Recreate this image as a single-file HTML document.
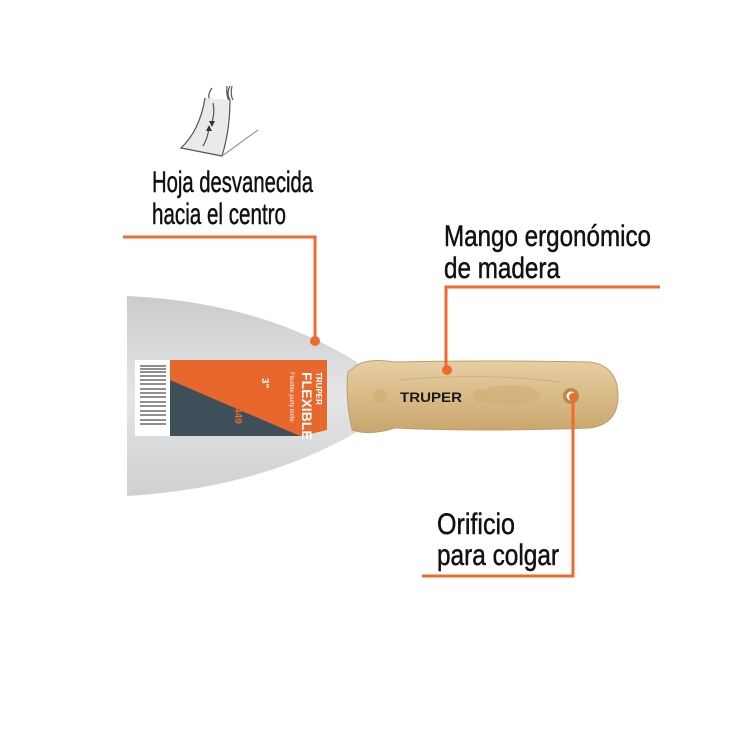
<!DOCTYPE html>
<html><head><style>html,body{margin:0;padding:0;background:#fff}svg{display:block}</style></head>
<body>
<svg width="750" height="750" viewBox="0 0 750 750" xmlns="http://www.w3.org/2000/svg">
<defs>
<linearGradient id="blade" x1="0" y1="0" x2="0" y2="1">
<stop offset="0" stop-color="#c9cbcd"/><stop offset="0.5" stop-color="#e4e5e6"/><stop offset="1" stop-color="#cfd0d2"/>
</linearGradient>
<linearGradient id="wood" x1="0" y1="0" x2="0" y2="1">
<stop offset="0" stop-color="#e6cfa4"/><stop offset="0.5" stop-color="#d9bb87"/><stop offset="1" stop-color="#c9a56e"/>
</linearGradient>
</defs>
<g fill="none" stroke="#555" stroke-width="1.2">
<path d="M212 88 Q205 98 213 102 Q222 104 230 100 Q226 94 230 86"/>
<path d="M227 86 Q226 95 229 101 M232 86 Q230 95 233 100"/>
<path d="M205 98 Q200 130 181 148 L222 156 Q230 130 230 100" fill="#eaeaea"/>
<path d="M222 156 L258 130" stroke="#999"/>
<path d="M213 103 Q215 112 212 122 M203 146 Q208 138 209 127"/>
</g>
<path d="M209 121 l3 6 l3 -6z M206 131 l3 -6 l3 6z" fill="#333"/>
<path d="M127 296 Q260 302 357 362 L357 432 Q260 488 127 496 Z" fill="url(#blade)"/>
<rect x="135" y="360" width="36" height="76" fill="#fff"/>
<g stroke="#222" stroke-width="1">
<path d="M140 366 H166 M140 369 H166 M140 372 H166 M140 376 H166 M140 380 H166 M140 384 H166 M140 389 H166 M140 393 H166 M140 397 H166 M140 402 H166 M140 406 H166 M140 411 H166 M140 415 H166 M140 420 H166 M140 424 H166"/>
</g>
<path d="M170 360 L327 360 L327 430 L302 436 L170 436 Z" fill="#e8672c"/>
<path d="M170 380 L300 436 L170 436 Z" fill="#3f4f5a"/>
<g font-family="Liberation Sans, sans-serif" fill="#fff" font-weight="bold">
<text transform="translate(302,372) rotate(90)" font-size="14">FLEXIBLE</text>
<text transform="translate(316,372) rotate(90)" font-size="8">TRUPER</text>
<text transform="translate(290,372) rotate(90)" font-size="6" font-weight="normal">Flexible putty knife</text>
<text transform="translate(262,378) rotate(90)" font-size="10">3"</text>
<text transform="translate(235,396) rotate(90)" font-size="10" fill="#e8672c">14449</text>
</g>
<path d="M357 365 Q370 358 395 362 Q480 360 590 362 Q618 366 618 396 Q618 424 590 428 Q480 432 395 428 Q370 436 352 430 Q345 398 348 372 Z" fill="url(#wood)" stroke="#c29e66" stroke-width="1"/>
<ellipse cx="510" cy="395" rx="30" ry="10" fill="#cfae78" opacity="0.6"/>
<path d="M400 380 Q480 372 560 382" stroke="#c9a46c" stroke-width="1" fill="none" opacity="0.6"/>
<circle cx="380" cy="396" r="7" fill="#d4b174"/>
<circle cx="480" cy="396" r="7" fill="#d4b174"/>
<circle cx="571" cy="396" r="8" fill="#b78a3e"/>
<circle cx="571" cy="396" r="4.5" fill="#fff"/>
<text x="400" y="402" font-family="Liberation Sans, sans-serif" font-weight="bold" font-size="14" fill="#1a1a1a" textLength="62" lengthAdjust="spacingAndGlyphs">TRUPER</text>
<g stroke="#ef6a2e" stroke-width="3" fill="none">
<path d="M123 237 H315 V340"/>
<path d="M660 287 H446 V370"/>
<path d="M422 576 H573 V396"/>
</g>
<circle cx="315" cy="341" r="5" fill="#ef6a2e"/>
<circle cx="447" cy="370" r="5" fill="#ef6a2e"/>
<circle cx="573" cy="397" r="4" fill="#ef6a2e"/>
<g font-family="Liberation Sans, sans-serif" font-size="30" fill="#111" stroke="#111" stroke-width="0.5">
<text x="152" y="192" textLength="161" lengthAdjust="spacingAndGlyphs">Hoja desvanecida</text>
<text x="152" y="224" textLength="134" lengthAdjust="spacingAndGlyphs">hacia el centro</text>
<text x="444" y="246" textLength="207" lengthAdjust="spacingAndGlyphs">Mango ergonómico</text>
<text x="444" y="278" textLength="116" lengthAdjust="spacingAndGlyphs">de madera</text>
<text x="437" y="534" textLength="78" lengthAdjust="spacingAndGlyphs">Orificio</text>
<text x="437" y="565" textLength="122" lengthAdjust="spacingAndGlyphs">para colgar</text>
</g>
</svg>
</body></html>
